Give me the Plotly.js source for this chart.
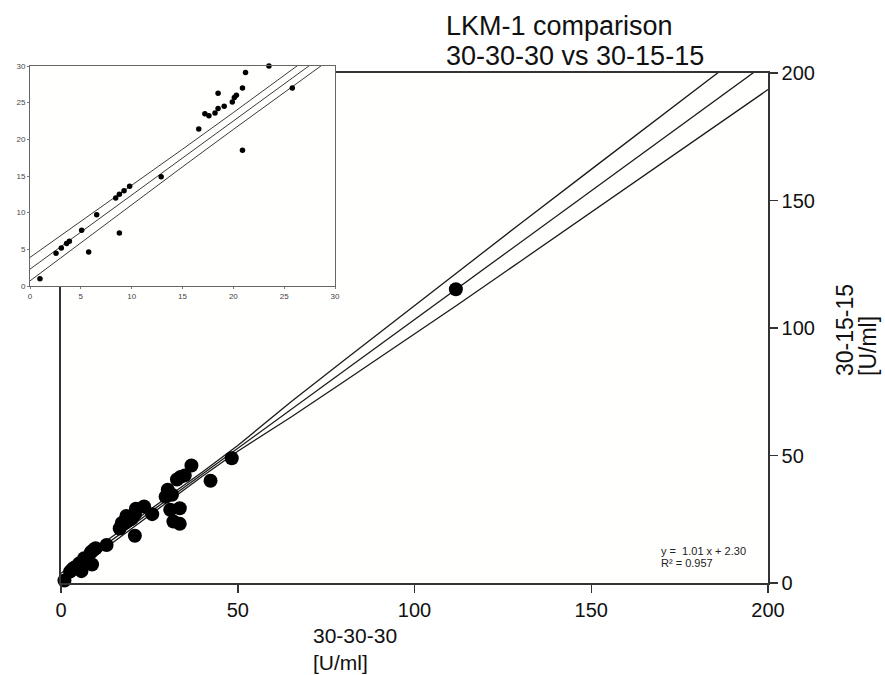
<!DOCTYPE html>
<html>
<head>
<meta charset="utf-8">
<script src="https://cdn.plot.ly/plotly-3.0.1.min.js"></script>
<style>
  html, body { margin: 0; padding: 0; background: #ffffff; }
  #chart { width: 885px; height: 675px; }
</style>
</head>
<body>
<div id="chart"></div>
<script>
// ---- data ----
// 30-30-30 method results [U/ml]
const x303030 = [0.98, 2.56, 3.08, 3.6, 3.87, 5.08, 5.77, 6.56, 8.43, 8.79, 8.79, 9.25, 9.8, 12.9,
  16.6, 17.2, 17.6, 18.2, 18.5, 18.5, 19.1, 19.9, 20.1, 20.3, 20.9, 20.9, 21.2, 23.5, 25.8,
  29.6, 30.2, 31.4, 32.8, 33.8, 35.0, 36.9, 42.3, 48.3, 30.9, 33.6, 31.8, 33.6, 111.7];
// 30-15-15 method results [U/ml]
const y301515 = [1.0, 4.45, 5.18, 5.8, 6.1, 7.6, 4.64, 9.73, 12.0, 12.5, 7.23, 13.0, 13.6, 14.9,
  21.4, 23.5, 23.2, 23.6, 26.3, 24.2, 24.5, 25.1, 25.7, 26.0, 27.0, 18.5, 29.1, 30.0, 27.0,
  33.8, 36.6, 34.6, 40.6, 41.6, 42.2, 46.1, 40.1, 48.9, 28.7, 29.3, 24.1, 23.2, 115.2];

// regression line y = 1.01 x + 2.30 and its band, main panel
const bandX  = [0, 20, 40, 50, 65, 80, 100, 112, 130, 150, 175, 200];
const fitY   = [2.3, 22.5, 42.7, 52.8, 68.0, 83.1, 103.3, 115.4, 133.6, 153.8, 179.1, 204.3];
const upperY = [3.8, 23.5, 43.5, 53.9, 71.0, 87.3, 108.9, 121.9, 141.0, 162.2, 188.7, 215.1];
const lowerY = [0.8, 21.5, 41.9, 51.7, 65.0, 78.9, 97.7, 108.9, 126.2, 145.4, 169.5, 193.5];

// inset (0-30 zoom) band
const insetBandX  = [0, 5, 10, 15, 20, 25, 30];
const insetFitY   = [2.3, 7.35, 12.4, 17.45, 22.5, 27.55, 32.6];
const insetUpperY = [3.9, 8.8, 13.7, 18.65, 23.65, 28.7, 33.8];
const insetLowerY = [0.7, 5.9, 11.1, 16.25, 21.35, 26.4, 31.4];

const mainTicks = [0, 50, 100, 150, 200];
const insetTicks = [0, 5, 10, 15, 20, 25, 30];

const titleLines = ['LKM-1 comparison', '30-30-30 vs 30-15-15'];
const xTitleLines = ['30-30-30', '[U/ml]'];
const yTitleLines = ['30-15-15', '[U/ml]'];
const fitText = ['y =  1.01 x + 2.30', 'R\u00b2 = 0.957'];

// ---- drawing ----
const FONT = 'Liberation Sans, Arial, Helvetica, sans-serif';
const W = 885, H = 675;
const M = {l: 10, r: 117, t: 66, b: 92};
const PW = W - M.l - M.r, PH = H - M.t - M.b;
const px = v => (v - M.l) / PW;
const py = v => (H - M.b - v) / PH;

const bandLine = {color: '#1a1a1a', width: 1.3};
const insetLine = {color: '#3a3a3a', width: 1};

const traces = [
  {x: bandX, y: upperY, mode: 'lines', line: bandLine, xaxis: 'x', yaxis: 'y', hoverinfo: 'skip'},
  {x: bandX, y: fitY, mode: 'lines', line: bandLine, xaxis: 'x', yaxis: 'y', hoverinfo: 'skip'},
  {x: bandX, y: lowerY, mode: 'lines', line: bandLine, xaxis: 'x', yaxis: 'y', hoverinfo: 'skip'},
  {x: x303030, y: y301515, mode: 'markers', cliponaxis: false,
   marker: {color: '#000', size: 14, line: {width: 0}}, xaxis: 'x', yaxis: 'y'},
  {x: insetBandX, y: insetUpperY, mode: 'lines', line: insetLine, xaxis: 'x2', yaxis: 'y2', hoverinfo: 'skip'},
  {x: insetBandX, y: insetFitY, mode: 'lines', line: insetLine, xaxis: 'x2', yaxis: 'y2', hoverinfo: 'skip'},
  {x: insetBandX, y: insetLowerY, mode: 'lines', line: insetLine, xaxis: 'x2', yaxis: 'y2', hoverinfo: 'skip'},
  {x: x303030, y: y301515, mode: 'markers', cliponaxis: false,
   marker: {color: '#000', size: 5.5, line: {width: 0}}, xaxis: 'x2', yaxis: 'y2'}
];

function ann(text, x, y, size, opts) {
  return Object.assign({
    text: text, x: x, y: y, xref: 'paper', yref: 'paper',
    xanchor: 'left', yanchor: 'middle', showarrow: false, align: 'left',
    borderpad: 0, borderwidth: 0,
    font: {family: FONT, size: size, color: '#111'}
  }, opts || {});
}

const annotations = [
  ann(titleLines[0], px(446), py(25.5), 27),
  ann(titleLines[1], px(446), py(55.5), 27),
  ann(xTitleLines.join('<br>'), px(313), py(649), 21),
  ann(yTitleLines[0], px(845), py(376), 23, {textangle: -90, xanchor: 'center', yanchor: 'bottom'}),
  ann(yTitleLines[1], px(868), py(376), 23, {textangle: -90, xanchor: 'center', yanchor: 'bottom'}),
  ann(fitText[0], px(661), py(551), 11, {font: {family: FONT, size: 11, color: '#222'}}),
  ann(fitText[1], px(661), py(563), 11, {font: {family: FONT, size: 11, color: '#222'}})
];

const mainAxis = {
  range: [0, 200], tickvals: mainTicks, ticktext: mainTicks.map(String),
  showline: true, mirror: true, linecolor: '#333', linewidth: 1.6,
  ticks: 'outside', ticklen: 8, tickwidth: 1.5, tickcolor: '#333',
  showgrid: false, zeroline: false,
  tickfont: {family: FONT, size: 20, color: '#111'}
};
const insetAxis = {
  range: [0, 30], tickvals: insetTicks, ticktext: insetTicks.map(String),
  showline: true, mirror: true, linecolor: '#666', linewidth: 1,
  ticks: 'outside', ticklen: 2, tickwidth: 1, tickcolor: '#777',
  showgrid: false, zeroline: false,
  tickfont: {family: FONT, size: 8, color: '#444'}
};

const layout = {
  width: W, height: H,
  margin: M,
  paper_bgcolor: '#ffffff',
  plot_bgcolor: '#fffffe',
  showlegend: false,
  font: {family: FONT, color: '#111'},
  xaxis: Object.assign({}, mainAxis, {domain: [px(61), 1], anchor: 'y'}),
  yaxis: Object.assign({}, mainAxis, {domain: [0, py(73)], anchor: 'x', side: 'right'}),
  xaxis2: Object.assign({}, insetAxis, {domain: [px(30), px(335)], anchor: 'y2'}),
  yaxis2: Object.assign({}, insetAxis, {domain: [py(286), py(66)], anchor: 'x2'}),
  annotations: annotations
};

Plotly.newPlot('chart', traces, layout, {displayModeBar: false, staticPlot: true});
</script>
</body>
</html>
